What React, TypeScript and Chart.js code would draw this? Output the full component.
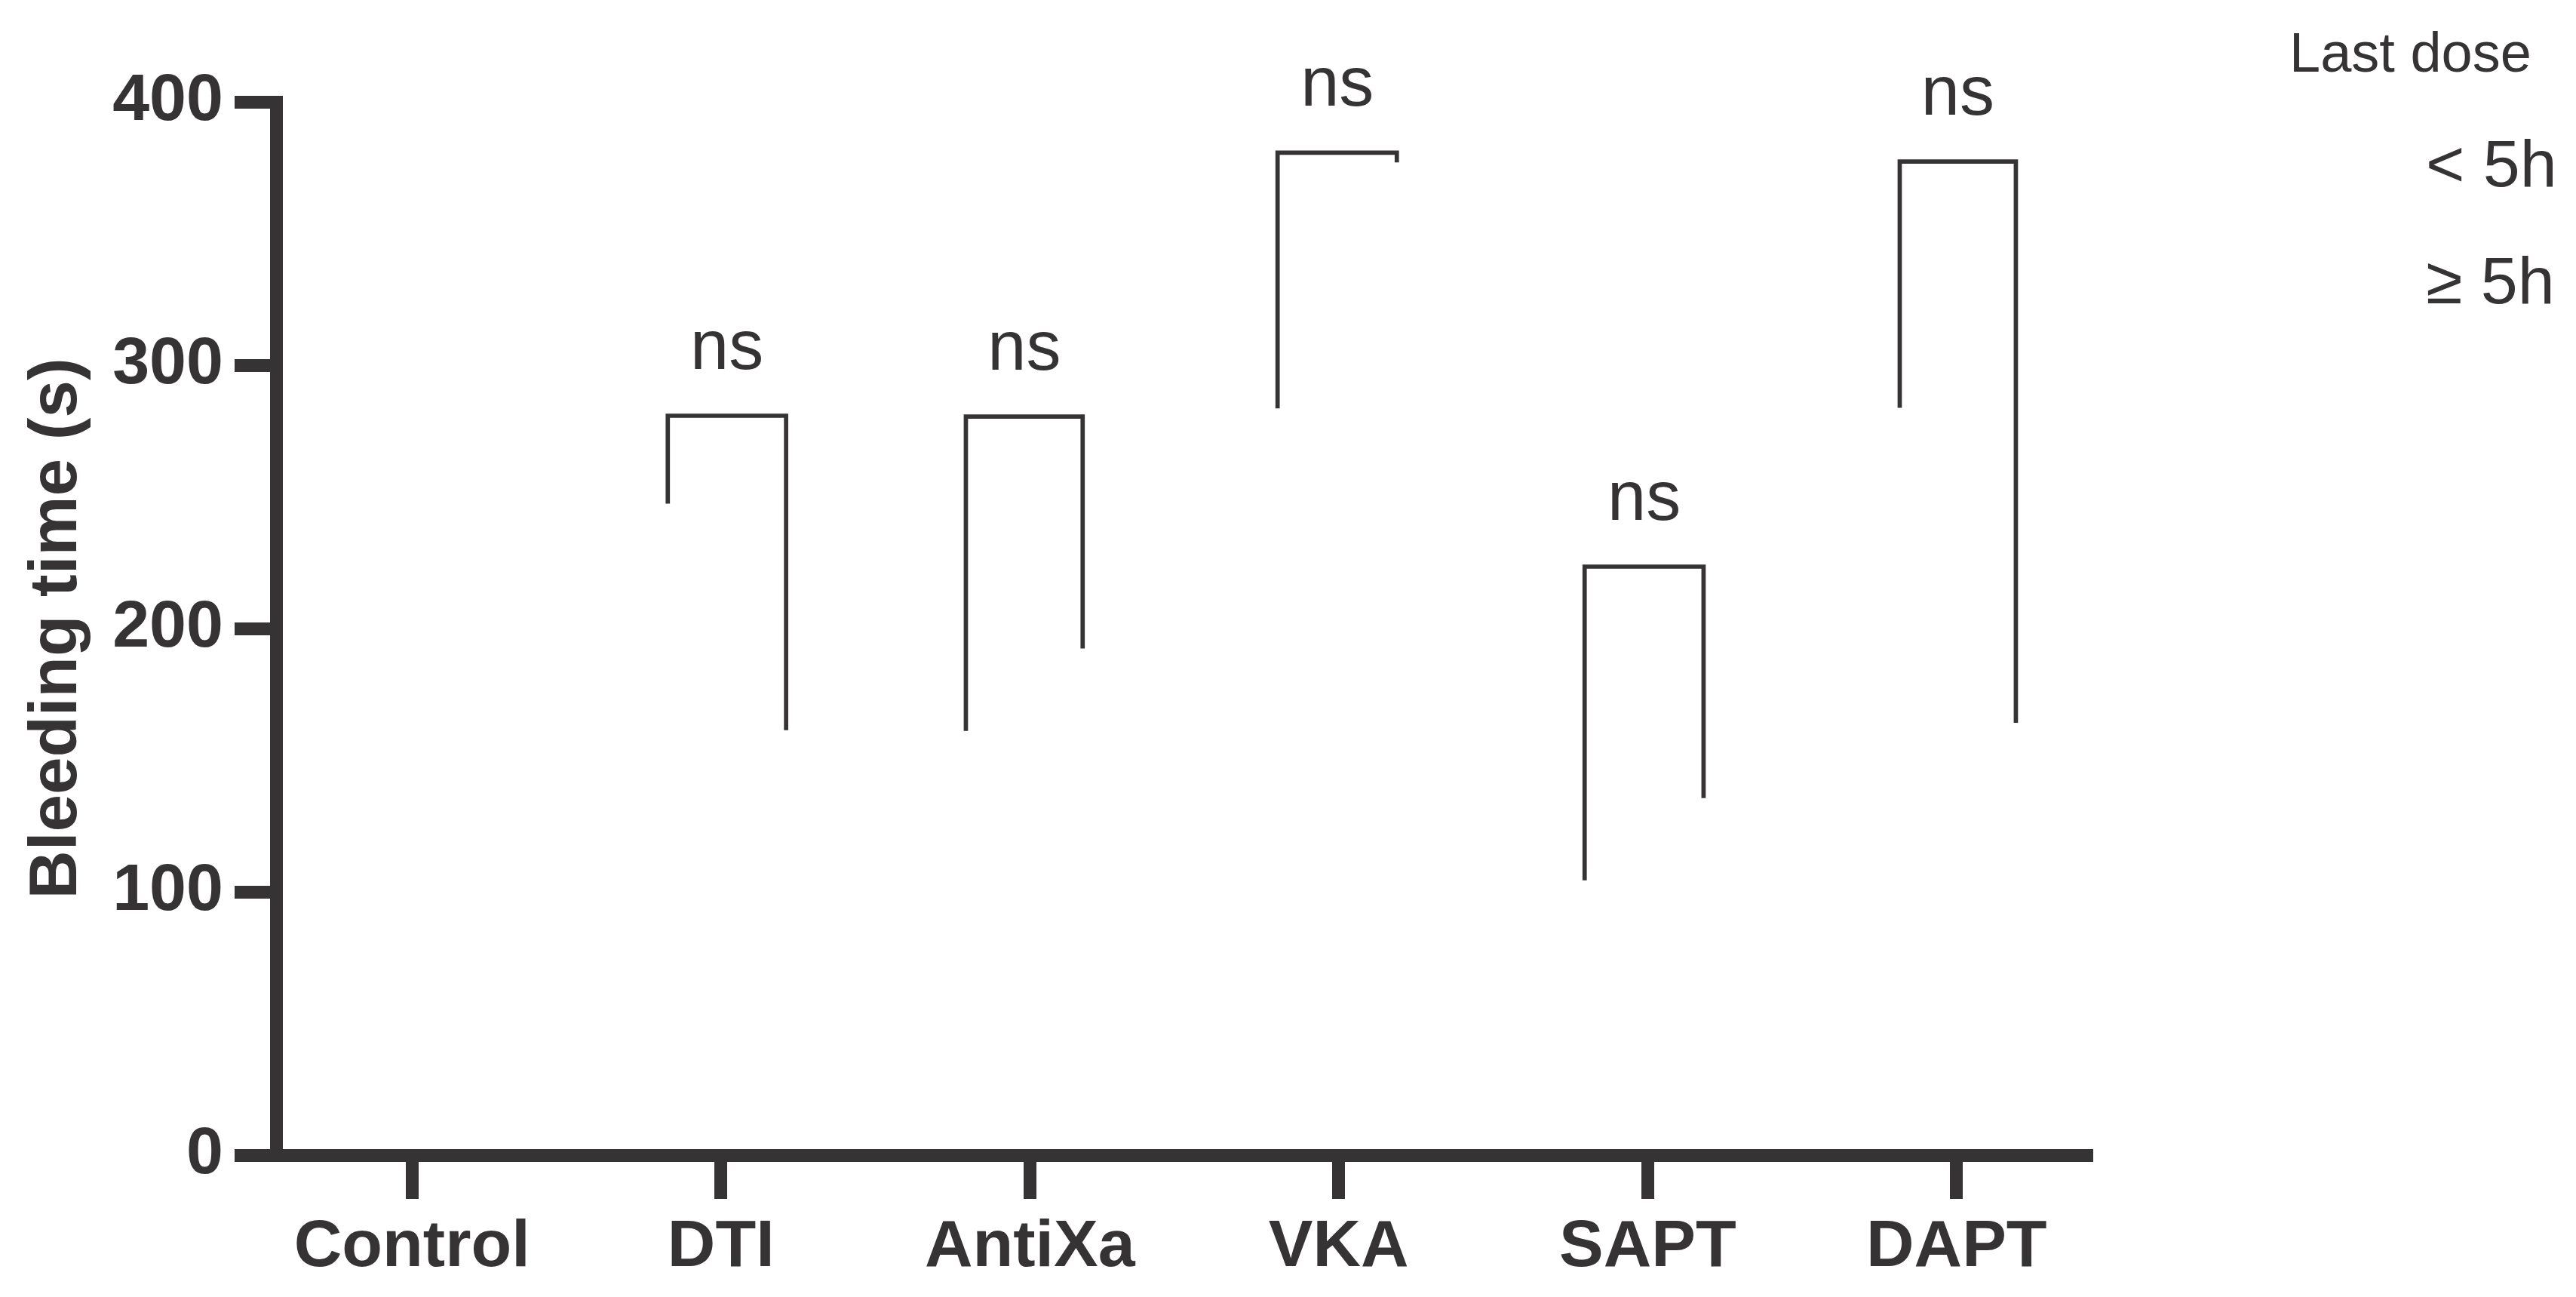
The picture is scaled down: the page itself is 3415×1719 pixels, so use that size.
import { useEffect, useRef } from "react";
import { Chart, registerables } from "chart.js";

Chart.register(...registerables);

// ---- Data ----
const categories = ["Control", "DTI", "AntiXa", "VKA", "SAPT", "DAPT"];
const yTickValues = [0, 100, 200, 300, 400];
const bracketLabels = ["ns", "ns", "ns", "ns", "ns"];
const bracketLeftX = [0.828, 1.793, 2.802, 3.796, 4.816];
const bracketRightX = [1.211, 2.171, 3.188, 4.181, 5.192];
const bracketTop = [280.8, 280.5, 380.7, 223.5, 377.3];
const bracketLeftBottom = [247.4, 161.1, 283.6, 104.4, 283.8];
const bracketRightBottom = [161.4, 192.4, 377.0, 135.6, 164.2];
const legendTitle = "Last dose";
const legendItems = ["< 5h", "≥ 5h"];

const INK = "#353334";
const FONT = "'Liberation Sans', Arial, Helvetica, sans-serif";

const annotationPlugin = {
  id: "annotations",
  afterDatasetsDraw(chart: any) {
    const ctx = chart.ctx;
    const xs = chart.scales.x;
    const ys = chart.scales.y;
    ctx.save();
    ctx.fillStyle = INK;
    ctx.font = `92px ${FONT}`;
    ctx.textAlign = "center";
    ctx.textBaseline = "alphabetic";
    bracketLabels.forEach((lab, i) => {
      const cx = xs.getPixelForValue((bracketLeftX[i] + bracketRightX[i]) / 2);
      const cy = ys.getPixelForValue(bracketTop[i]) - 62;
      ctx.fillText(lab, cx, cy);
    });
    // legend (no visible markers)
    ctx.textAlign = "left";
    ctx.font = `74px ${FONT}`;
    ctx.fillText(legendTitle, 3035, 95);
    ctx.font = `88px ${FONT}`;
    ctx.fillText(legendItems[0], 3216, 247);
    ctx.fillText(legendItems[1], 3216, 402);
    ctx.restore();
  },
};

export default function App() {
  const ref = useRef<HTMLCanvasElement | null>(null);

  useEffect(() => {
    if (!ref.current) return;
    const datasets = bracketLabels.map((_, i) => ({
      label: `bracket-${categories[i + 1]}`,
      data: [
        { x: bracketLeftX[i], y: bracketLeftBottom[i] },
        { x: bracketLeftX[i], y: bracketTop[i] },
        { x: bracketRightX[i], y: bracketTop[i] },
        { x: bracketRightX[i], y: bracketRightBottom[i] },
      ],
      borderColor: INK,
      borderWidth: 5.7,
      pointRadius: 0,
      fill: false,
      tension: 0,
      borderJoinStyle: "miter" as const,
      borderCapStyle: "butt" as const,
    }));

    const chart = new Chart(ref.current, {
      type: "line",
      data: { datasets },
      options: {
        animation: false,
        responsive: false,
        devicePixelRatio: 1,
        layout: { padding: { left: 0, right: 641, top: 135, bottom: 0 } },
        plugins: {
          legend: { display: false },
          tooltip: { enabled: false },
        },
        scales: {
          x: {
            type: "linear",
            position: "bottom",
            min: -0.44,
            max: 5.44,
            afterFit: (s: any) => {
              s.height = 188;
            },
            afterBuildTicks: (s: any) => {
              s.ticks = categories.map((_, i) => ({ value: i }));
            },
            ticks: {
              callback: (v: any) => categories[v as number] ?? "",
              color: INK,
              font: { family: FONT, size: 88, weight: "bold" },
              padding: 12,
              maxRotation: 0,
              autoSkip: false,
            },
            grid: {
              display: true,
              drawOnChartArea: false,
              drawTicks: true,
              tickLength: 58,
              tickWidth: 17,
              tickColor: INK,
            },
            border: { display: true, width: 17, color: INK },
          },
          y: {
            type: "linear",
            position: "left",
            min: 0,
            max: 400,
            afterFit: (s: any) => {
              s.width = 366;
            },
            afterBuildTicks: (s: any) => {
              s.ticks = yTickValues.map((v) => ({ value: v }));
            },
            ticks: {
              color: INK,
              font: { family: FONT, size: 88, weight: "bold" },
              padding: 15,
            },
            grid: {
              display: true,
              drawOnChartArea: false,
              drawTicks: true,
              tickLength: 55,
              tickWidth: 17,
              tickColor: INK,
            },
            border: { display: true, width: 17, color: INK },
            title: {
              display: true,
              text: "Bleeding time (s)",
              color: INK,
              font: { family: FONT, size: 89, weight: "bold" },
              padding: { top: 23, bottom: 0 },
            },
          },
        },
      },
      plugins: [annotationPlugin],
    });
    return () => chart.destroy();
  }, []);

  return (
    <div
      style={{
        position: "fixed",
        left: 0,
        top: 0,
        width: 3415,
        height: 1719,
        background: "#ffffff",
      }}
    >
      <canvas
        ref={ref}
        width={3415}
        height={1719}
        style={{ width: 3415, height: 1719, display: "block" }}
      />
    </div>
  );
}
